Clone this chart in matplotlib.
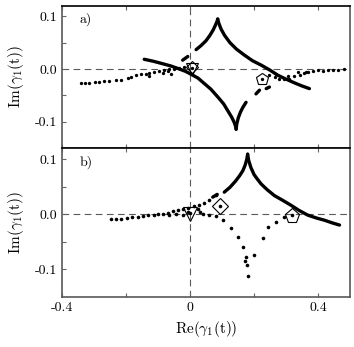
import matplotlib
matplotlib.use("Agg")
import matplotlib.pyplot as plt

plt.rcParams["font.family"] = "cmr10"
plt.rcParams["mathtext.fontset"] = "cm"
plt.rcParams["axes.unicode_minus"] = False

# ---- panel a) ----
# thick curve branches
a_ul_x = [0.019, 0.035, 0.050, 0.062, 0.072, 0.079, 0.084, 0.0865]
a_ul_y = [0.037, 0.045, 0.054, 0.064, 0.074, 0.083, 0.090, 0.095]
a_ul_dash_x = [-0.023, -0.007]
a_ul_dash_y = [0.017, 0.024]
a_ur_x = [0.0865, 0.090, 0.097, 0.108, 0.125, 0.145, 0.169, 0.195, 0.222, 0.250,
          0.274, 0.300, 0.326, 0.350, 0.373]
a_ur_y = [0.095, 0.087, 0.076, 0.064, 0.050, 0.038, 0.027, 0.016, 0.0077, -0.002,
          -0.0115, -0.019, -0.026, -0.032, -0.037]
a_ll_x = [-0.143, -0.115, -0.090, -0.060, -0.038, -0.015, 0.003, 0.025, 0.045, 0.065,
          0.087, 0.105, 0.118, 0.130, 0.138, 0.142, 0.144]
a_ll_y = [0.0187, 0.015, 0.011, 0.006, 0.0013, -0.004, -0.0096, -0.017, -0.0275, -0.038,
          -0.053, -0.066, -0.079, -0.091, -0.101, -0.108, -0.114]
a_lr_x = [0.144, 0.146, 0.151, 0.158, 0.165, 0.175]
a_lr_y = [-0.114, -0.104, -0.092, -0.081, -0.0725, -0.063]
a_lr_dash1_x = [0.206, 0.217]
a_lr_dash1_y = [-0.047, -0.040]
a_lr_dash2_x = [0.238, 0.248]
a_lr_dash2_y = [-0.037, -0.034]

# scattered dots
a_dots_x = [-0.341, -0.328, -0.316, -0.297, -0.284, -0.268, -0.252, -0.231, -0.216,
            -0.195, -0.184, -0.169, -0.153, -0.138, -0.127, -0.112, -0.096, -0.080,
            -0.065, -0.049, -0.033, -0.018, -0.127, -0.085, -0.059, -0.070,
            0.264, 0.279, 0.295, 0.310, 0.326, 0.342, 0.357, 0.368, 0.383, 0.399,
            0.415, 0.430, 0.446, 0.461, 0.482, 0.248, 0.269, 0.305, 0.336, 0.362,
            0.005, 0.224]
a_dots_y = [-0.026, -0.026, -0.026, -0.024, -0.024, -0.023, -0.023, -0.021, -0.020,
            -0.017, -0.015, -0.012, -0.010, -0.0096, -0.008, -0.006, -0.003, -0.002,
            0.000, 0.001, 0.003, 0.004, -0.0135, -0.007, -0.0096, -0.004,
            -0.0148, -0.019, -0.018, -0.018, -0.013, -0.0115, -0.008, -0.005, -0.004,
            -0.002, -0.003, -0.001, -0.002, -0.001, 0.001, -0.0115, -0.010, -0.013,
            -0.006, -0.006, 0.003, -0.019]

a_pent = (0.224, -0.019)
a_diam = (0.005, 0.004)
a_tri = (0.005, 0.001)

# ---- panel b) ----
b_ul_dash_x = [0.071, 0.085]
b_ul_dash_y = [0.031, 0.036]
b_ul_x = [0.107, 0.125, 0.142, 0.155, 0.165, 0.172, 0.177, 0.180]
b_ul_y = [0.040, 0.049, 0.060, 0.070, 0.079, 0.089, 0.099, 0.109]
b_ur_x = [0.180, 0.183, 0.190, 0.200, 0.210, 0.222, 0.240, 0.263, 0.290, 0.316,
          0.340, 0.368, 0.395, 0.420, 0.445, 0.467]
b_ur_y = [0.109, 0.098, 0.085, 0.072, 0.064, 0.055, 0.045, 0.034, 0.025, 0.016,
          0.007, -0.0018, -0.007, -0.011, -0.016, -0.0198]

b_dots_x = [-0.247, -0.231, -0.216, -0.197, -0.182, -0.161, -0.146, -0.130, -0.114,
            -0.099, -0.083, -0.068, -0.052, -0.037, -0.021, -0.005, 0.012, 0.027,
            0.043, 0.059, 0.081,
            -0.065, -0.044, -0.023, -0.007, 0.024, 0.032, 0.040, 0.060, 0.081, 0.102,
            0.128, 0.149, 0.165, 0.175, 0.178, 0.172, 0.180,
            0.201, 0.227, 0.243, 0.270, 0.295, 0.320, 0.000, 0.095]
b_dots_y = [-0.009, -0.009, -0.008, -0.0066, -0.006, -0.0048, -0.0036, -0.0018, -0.001,
            0.000, 0.001, 0.003, 0.005, 0.007, 0.0096, 0.012, 0.014, 0.0175,
            0.020, 0.025, 0.034,
            -0.002, 0.001, -0.002, 0.004, 0.010, 0.004, 0.000, -0.002, -0.0036, -0.011,
            -0.026, -0.041, -0.059, -0.077, -0.092, -0.085, -0.113,
            -0.074, -0.044, -0.023, -0.015, -0.005, -0.002, 0.002, 0.014]

b_tri = (0.0, 0.0)
b_diam = (0.095, 0.014)
b_pent = (0.318, -0.003)

fig = plt.figure(figsize=(3.54, 3.47), dpi=100)
ax1 = fig.add_axes([0.175, 0.573, 0.814, 0.410])
ax2 = fig.add_axes([0.175, 0.145, 0.814, 0.428])

lw = 2.4
for ax in (ax1, ax2):
    ax.axhline(0, color="0.35", lw=0.8, ls=(0, (6, 4)), zorder=0)
    ax.axvline(0, color="0.35", lw=0.8, ls=(0, (6, 4)), zorder=0)

for xs, ys in [(a_ul_x, a_ul_y), (a_ul_dash_x, a_ul_dash_y), (a_ur_x, a_ur_y),
               (a_ll_x, a_ll_y), (a_lr_x, a_lr_y), (a_lr_dash1_x, a_lr_dash1_y),
               (a_lr_dash2_x, a_lr_dash2_y)]:
    ax1.plot(xs, ys, color="k", lw=lw, solid_capstyle="round", solid_joinstyle="round")
ax1.plot(a_dots_x, a_dots_y, "o", color="k", ms=2.4, mec="none")
ax1.plot(*a_pent, "p", ms=9, mfc="none", mec="k", mew=0.8)
ax1.plot(*a_diam, "D", ms=6, mfc="none", mec="k", mew=0.8)
ax1.plot(*a_tri, "v", ms=8, mfc="none", mec="k", mew=0.8)
ax1.text(0.06, 0.88, "a)", transform=ax1.transAxes, fontsize=10)

for xs, ys in [(b_ul_dash_x, b_ul_dash_y), (b_ul_x, b_ul_y), (b_ur_x, b_ur_y)]:
    ax2.plot(xs, ys, color="k", lw=lw, solid_capstyle="round", solid_joinstyle="round")
ax2.plot(b_dots_x, b_dots_y, "o", color="k", ms=2.6, mec="none")
ax2.plot(*b_tri, "v", ms=10, mfc="none", mec="k", mew=0.8)
ax2.plot(*b_diam, "D", ms=8, mfc="none", mec="k", mew=0.8)
ax2.plot(*b_pent, "p", ms=11, mfc="none", mec="k", mew=0.8)
ax2.text(0.06, 0.88, "b)", transform=ax2.transAxes, fontsize=10)

for ax in (ax1, ax2):
    ax.set_xlim(-0.4, 0.5)
    ax.set_ylim(-0.15, 0.12)
    ax.set_xticks([-0.4, 0, 0.4])
    ax.set_xticks([-0.2, 0.2], minor=True)
    ax.set_yticks([-0.1, 0, 0.1])
    ax.set_yticks([-0.05, 0.05], minor=True)
    ax.set_yticklabels(["-0.1", "0.0", "0.1"], fontsize=10)
    ax.set_ylabel(r"Im($\gamma_1$(t))", fontsize=11, labelpad=6)
    ax.tick_params(which="both", direction="in", length=3, width=0.8,
                   top=True, right=False, color="0.4")
    for s in ax.spines.values():
        s.set_color("0.35")
        s.set_linewidth(1.2)
    ax.spines["top"].set_color("k")

ax1.set_xticklabels([])
ax2.set_xticklabels(["-0.4", "0", "0.4"], fontsize=10)
ax2.set_xlabel(r"Re($\gamma_1$(t))", fontsize=11)

fig.savefig("out.png", dpi=100)
